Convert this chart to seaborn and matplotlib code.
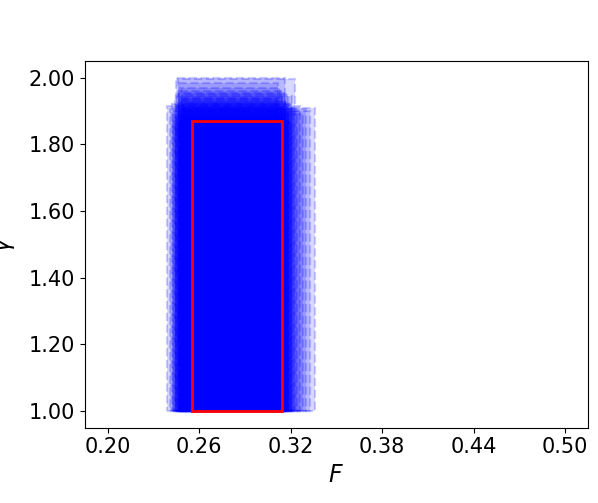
import numpy as np
import pandas as pd
import matplotlib
matplotlib.use('Agg')
import matplotlib.pyplot as plt
from matplotlib.patches import Rectangle
import seaborn as sns

# sampled parameter boxes (F range, gamma range)
f_low = [0.239, 0.241, 0.245, 0.246, 0.247, 0.244, 0.243, 0.248, 0.246, 0.249,
         0.242, 0.247, 0.250, 0.244, 0.248, 0.245, 0.251, 0.246, 0.249, 0.243,
         0.247, 0.250, 0.248, 0.252, 0.245, 0.244, 0.246, 0.249, 0.247, 0.251]
f_high = [0.318, 0.321, 0.316, 0.323, 0.312, 0.336, 0.333, 0.330, 0.314, 0.318,
          0.320, 0.326, 0.315, 0.317, 0.313, 0.319, 0.322, 0.316, 0.311, 0.318,
          0.320, 0.324, 0.317, 0.315, 0.321, 0.313, 0.328, 0.319, 0.316, 0.318]
gamma_low = [1.00] * 30
gamma_high = [1.915, 1.905, 2.000, 1.995, 1.985, 1.910, 1.900, 1.905, 1.960, 1.950,
              1.920, 1.915, 1.940, 1.930, 1.970, 1.880, 1.910, 1.925, 1.935, 1.870,
              1.865, 1.900, 1.885, 1.875, 1.945, 1.860, 1.890, 1.920, 1.955, 1.870]

# best box
best_f = [0.255, 0.314]
best_gamma = [1.00, 1.87]

xticks = [0.20, 0.26, 0.32, 0.38, 0.44, 0.50]
yticks = [1.00, 1.20, 1.40, 1.60, 1.80, 2.00]

boxes = pd.DataFrame({'f_low': f_low, 'f_high': f_high,
                      'gamma_low': gamma_low, 'gamma_high': gamma_high})

sns.set_theme(style='ticks', rc={
    'axes.edgecolor': 'black', 'text.color': 'black', 'axes.labelcolor': 'black',
    'xtick.color': 'black', 'ytick.color': 'black', 'axes.linewidth': 0.8,
    'xtick.major.width': 0.8, 'ytick.major.width': 0.8,
    'xtick.major.size': 3.5, 'ytick.major.size': 3.5,
})
plt.rcParams['font.family'] = ['DejaVu Sans']

fig, ax = plt.subplots(figsize=(5.98, 5.03), dpi=100)
fig.subplots_adjust(left=0.142, right=0.983, top=0.879, bottom=0.150)

for _, row in boxes.iterrows():
    ax.add_patch(Rectangle((row.f_low, row.gamma_low), row.f_high - row.f_low,
                           row.gamma_high - row.gamma_low,
                           facecolor=(0, 0, 1, 0.15), edgecolor=(0, 0, 1, 0.2),
                           linestyle='--', linewidth=1.6))

ax.add_patch(Rectangle((best_f[0], best_gamma[0]), best_f[1] - best_f[0],
                       best_gamma[1] - best_gamma[0],
                       fill=False, edgecolor='red', linewidth=2, zorder=5))

ax.set_xlim(0.185, 0.515)
ax.set_ylim(0.95, 2.05)
ax.set_xticks(xticks)
ax.set_yticks(yticks)
ax.set_xticklabels([f'{v:.2f}' for v in xticks], fontsize=15)
ax.set_yticklabels([f'{v:.2f}' for v in yticks], fontsize=15)
ax.set_xlabel('$F$', fontsize=17)
ax.set_ylabel(r'$\gamma$', fontsize=17)
ax.yaxis.set_label_coords(-0.135, 0.5)

plt.savefig('out.png', dpi=100)
